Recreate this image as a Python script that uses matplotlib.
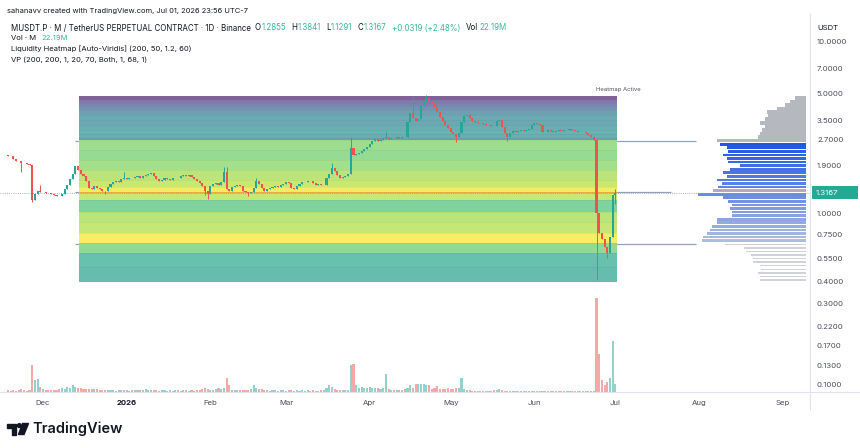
import matplotlib
matplotlib.use("Agg")
import matplotlib.pyplot as plt
import matplotlib.patches as mpatches
import matplotlib.transforms as mtransforms
import numpy as np

plt.rcParams['font.family'] = ['Inter', 'DejaVu Sans']

W, H = 860, 448
def fx(x): return x / W
def fy(y): return 1 - y / H

# ---- daily candles, day 0 = 2025-12-01 ----
first_day = -13
first_open = 2.20
closes = [2.17, 2.15, 2.08, 2.03, 2.02, 1.98, 1.96, 1.95, 1.92,
          1.20, 1.30, 1.35, 1.33,
          1.34, 1.32, 1.31, 1.30, 1.29, 1.27, 1.26, 1.30, 1.38, 1.46,
          1.58, 1.70, 1.90, 1.80, 1.70, 1.65, 1.55, 1.40, 1.38, 1.45,
          1.40, 1.38, 1.36, 1.35, 1.42, 1.48, 1.52, 1.55, 1.53, 1.58,
          1.60, 1.58, 1.62, 1.60, 1.63, 1.65, 1.62, 1.66, 1.68, 1.70,
          1.72, 1.65, 1.58, 1.55, 1.57, 1.60, 1.58, 1.56, 1.60, 1.62,
          1.60, 1.66, 1.68, 1.65, 1.67, 1.63, 1.58, 1.55, 1.50, 1.45,
          1.35, 1.30, 1.45, 1.48, 1.50, 1.47, 1.52, 1.75, 1.38, 1.35,
          1.42, 1.45, 1.46, 1.44, 1.36, 1.33, 1.31, 1.34, 1.40, 1.55,
          1.48, 1.40, 1.36, 1.38, 1.40, 1.42, 1.44, 1.43, 1.46, 1.48,
          1.52, 1.50, 1.41, 1.38, 1.45, 1.48, 1.52, 1.53, 1.55, 1.54,
          1.50, 1.46, 1.48, 1.46, 1.47, 1.62, 1.70, 1.85, 1.76, 1.68,
          1.62, 1.64, 1.66, 1.70, 2.40, 2.20, 2.22, 2.26, 2.30, 2.38,
          2.45, 2.55, 2.65, 2.72, 2.65, 2.70, 2.74, 2.78, 2.72, 2.74,
          2.74, 2.78, 2.76, 2.80, 2.78, 3.40, 3.85, 3.60, 3.45, 3.55,
          4.30, 4.50, 4.70, 4.55, 4.40, 4.15, 3.90, 3.65, 3.45, 3.30,
          3.15, 3.00, 2.92, 2.78, 2.95, 3.40, 3.70, 3.75, 3.60, 3.48,
          3.42, 3.38, 3.35, 3.33, 3.28, 3.30, 3.25, 3.22, 3.45, 3.50,
          3.20, 2.95, 2.80, 2.95, 3.02, 3.00, 3.03, 3.05, 3.02, 3.05,
          3.10, 3.30, 3.35, 3.32, 3.30, 3.00, 2.98, 3.05, 3.03, 3.00,
          3.04, 3.06, 3.02, 3.05, 3.08, 3.10, 3.06, 3.04, 3.00, 2.98,
          3.00, 2.95, 2.85, 2.78, 2.70, 1.01, 0.77, 0.71, 0.64, 0.59,
          0.73, 1.2855, 1.3167]

nan = np.nan
wick_days = [-8, -4, -1, 23, 30, 60, 61, 67, 68, 76, 79, 107, 114, 127,
             137, 142, 153, 172, 205, 209, 212]
wick_high = [nan, nan, 1.47, nan, 1.75, nan, nan, 1.86, 1.86, nan, 1.62, 1.97,
             2.80, 3.00, 4.75, 4.90, nan, nan, nan, nan, 1.3841]
wick_low = [1.75, 1.17, nan, 1.30, nan, 1.28, 1.22, nan, nan, 1.26, nan, nan,
            nan, nan, nan, nan, 2.62, 2.66, 0.41, 0.55, 1.1291]
change_text = '+0.0319 (+2.48%)'

# volume in millions
volume = [5, 4, 5, 4, 6, 9, 5, 4, 5,
          77, 35, 38, 14,
          9, 6, 5, 5, 6, 5, 10, 11, 9, 14,
          12, 21, 14, 12, 11, 9, 10, 9, 8, 9,
          8, 7, 6, 5, 5, 5, 6, 4, 5, 5,
          6, 5, 4, 5, 6, 5, 7, 5, 8, 5,
          6, 5, 5, 4, 5, 5, 4, 5, 4, 5,
          5, 4, 5, 5, 4, 5, 4, 5, 6, 8,
          12, 9, 7, 6, 9, 12, 8, 12, 40, 19,
          7, 6, 6, 7, 6, 6, 7, 9, 21, 12,
          9, 8, 5, 5, 4, 5, 5, 4, 5, 5,
          4, 5, 5, 4, 5, 4, 5, 4, 5, 4,
          5, 4, 4, 5, 5, 12, 19, 15, 9, 6,
          5, 5, 5, 6, 77, 80, 21, 12, 14, 12,
          11, 13, 12, 11, 12, 10, 11, 51, 9, 6,
          5, 6, 7, 5, 8, 12, 19, 11, 24, 24,
          24, 24, 19, 19, 9, 11, 16, 10, 9, 10,
          11, 9, 10, 11, 12, 40, 8, 7, 6, 4,
          3, 3, 3, 3, 3, 3, 4, 5, 6, 8,
          5, 4, 3, 3, 3, 3, 3, 3, 3, 3,
          3, 3, 3, 3, 3, 3, 3, 3, 3, 3,
          3, 3, 3, 3, 3, 3, 3, 3, 3, 3,
          3, 3, 3, 3, 3, 269, 108, 35, 19, 29,
          41, 147, 22.19]

# liquidity heatmap bands (price edges high -> low, viridis level per band)
heat_edges = [4.84, 4.59, 4.41, 4.24, 4.02, 3.76, 3.51, 3.28, 3.07, 2.91, 2.76,
              2.68, 2.34, 2.05, 1.79, 1.57, 1.43, 1.32, 1.20, 1.02, 0.89, 0.77,
              0.67, 0.59, 0.49, 0.40]
heat_level = [0.06, 0.18, 0.22, 0.30, 0.38, 0.44, 0.42, 0.46, 0.50, 0.46, 0.36,
              0.78, 0.76, 0.80, 0.85, 0.88, 0.97, 0.88, 0.70, 0.85, 0.87, 0.98,
              0.75, 0.58, 0.55]
heat_bars = 200

# volume profile rows, bottom -> top, relative volume
vp_low, vp_high = 0.40, 4.84
vp_volume = [46, 46, 48, 45, 46, 53, 53, 55, 60, 62,
             81, 104, 103, 99, 96, 94, 89, 89, 74, 74,
             76, 74, 78, 83, 108, 93, 88, 84, 89, 79,
             83, 76, 66, 78, 79, 83, 78, 79, 86, 89,
             48, 46, 44, 41, 46, 41, 38, 39, 29, 21,
             16, 11]
vah, poc, val = 2.63, 1.34, 0.665

month_starts = np.array(['2025-12-01', '2026-01-01', '2026-02-01', '2026-03-01',
                         '2026-04-01', '2026-05-01', '2026-06-01', '2026-07-01',
                         '2026-08-01', '2026-09-01'], dtype='datetime64[D]')
month_labels = ['Dec', '2026', 'Feb', 'Mar', 'Apr', 'May', 'Jun', 'Jul', 'Aug', 'Sep']
price_ticks = [10, 7, 5, 3.5, 2.7, 1.9, 1.4, 1.0, 0.75, 0.55, 0.4, 0.3, 0.22,
               0.17, 0.13, 0.10]

UP, DOWN = '#26a69a', '#ef5350'
UPV, DOWNV = '#93d2cb', '#f5a9a7'
TXT = '#131722'

# ---- derived ohlc ----
closes = np.array(closes)
days = np.arange(first_day, first_day + len(closes))
opens = np.r_[first_open, closes[:-1]]
highs = np.maximum(opens, closes)
lows = np.minimum(opens, closes)
for d, h, l in zip(wick_days, wick_high, wick_low):
    i = d - first_day
    if not np.isnan(h):
        highs[i] = max(highs[i], h)
    if not np.isnan(l):
        lows[i] = min(lows[i], l)
up = closes >= opens

fig = plt.figure(figsize=(8.6, 4.48), dpi=100)
ax = fig.add_axes([0, fy(392), fx(810), fy(18) - fy(392)])
ax.set_yscale('log')
ax.set_ylim(0.0910, 13.80)
x0 = 43.0
ax.set_xlim(-x0 / 2.7, (810 - x0) / 2.7)
for s in ax.spines.values():
    s.set_visible(False)

# heatmap: viridis bands washed towards white
last_day = days[-1]
hx = [last_day - heat_bars + 1.5, last_day + 0.6]
vir = plt.get_cmap('viridis')
for hi, lo, lv in zip(heat_edges[:-1], heat_edges[1:], heat_level):
    c = np.array(vir(lv)[:3]) * 0.68 + 0.32
    ax.add_patch(mpatches.Rectangle((hx[0], lo), hx[1] - hx[0], hi - lo,
                                    facecolor=c, edgecolor='none', zorder=1))
ax.hlines(heat_edges[1:-1], hx[0], hx[1], color=(0.2, 0.3, 0.35, 0.10), lw=0.4, zorder=1.2)
ax.hlines(poc, hx[0], hx[1], color='#e2893a', lw=0.6, alpha=0.8, zorder=1.5)

# value area lines
ax.hlines([vah, val], hx[0] - 1.5, 242, color='#95a1b8', lw=0.9, zorder=0.5)
ax.hlines(poc, hx[0] - 1.5, 232.5, color='#95a1b8', lw=0.9, zorder=0.5)

# current price dotted line
ax.axhline(closes[-1], color='#9598a1', lw=0.6, ls=(0, (1, 1.6)), zorder=2.5)

# candles
cols = np.where(up, UP, DOWN)
ax.vlines(days, lows, highs, colors=cols, lw=0.7, zorder=3)
ax.bar(days, np.maximum(np.abs(closes - opens), 0.004), bottom=np.minimum(opens, closes),
       width=0.78, color=cols, linewidth=0, zorder=3.5)

# volume profile
vp_edges = np.geomspace(vp_low, vp_high, len(vp_volume) + 1)
tr = mtransforms.blended_transform_factory(ax.transAxes, ax.transData)
right = 806 / 810
maxw = 108 / 810
vmax = max(vp_volume)
mids = np.sqrt(vp_edges[:-1] * vp_edges[1:])
n_va = int(np.sum((mids >= val) & (mids <= vah)))
k = 0
for i, v in enumerate(vp_volume):
    lo, hi = vp_edges[i], vp_edges[i + 1]
    mid = mids[i]
    w = v / vmax * maxw
    r = hi / lo
    if val <= mid <= vah:
        t = k / max(n_va - 1, 1)
        k += 1
        c0 = np.array([0.68, 0.74, 0.87])
        c1 = np.array([0.12, 0.34, 0.90])
        c = c0 + (c1 - c0) * t
        if abs(np.log(mid / poc)) < np.log(r) / 2:
            c = '#b4acbc'
        y0, y1 = lo * r ** 0.12, hi / r ** 0.12
    elif mid > vah:
        c = '#b6b8bf'
        y0, y1 = lo, hi
    else:
        c = '#cfd2d8'
        y0, y1 = lo * r ** 0.3, hi / r ** 0.3
    ax.add_patch(mpatches.Rectangle((right - w, y0), w, y1 - y0, transform=tr,
                                    facecolor=c, edgecolor='none', zorder=2))

# volume overlay
vax = ax.twinx()
vax.set_ylim(0, 1070)
vax.axis('off')
vax.bar(days, volume, width=0.78, color=np.where(up, UPV, DOWNV), linewidth=0)

# axes ticks
ax.yaxis.tick_right()
ax.yaxis.set_minor_locator(matplotlib.ticker.NullLocator())
ax.set_yticks(price_ticks)
ax.set_yticklabels(['%.4f' % p for p in price_ticks])
ax.tick_params(axis='y', length=0, pad=5, labelsize=5.6, labelcolor='#4a4e5a')
mdays = (month_starts - np.datetime64('2025-12-01')).astype(int)
ax.set_xticks(mdays)
ax.set_xticklabels(month_labels)
ax.tick_params(axis='x', length=0, pad=6, labelsize=5.6, labelcolor='#4a4e5a')
ax.get_xticklabels()[1].set_fontweight('bold')
ax.get_xticklabels()[1].set_color(TXT)

# frame lines
fig.add_artist(plt.Line2D([fx(810), fx(810)], [fy(14), fy(410)], color='#e0e3eb', lw=0.8))
fig.add_artist(plt.Line2D([0, 1], [fy(392), fy(392)], color='#e0e3eb', lw=0.8))

# last price label
ypix = ax.transData.transform((0, closes[-1]))[1]
yl = H - ypix
fig.add_artist(mpatches.Rectangle((fx(812), fy(yl + 6.5)), fx(46), fy(yl - 6.5) - fy(yl + 6.5),
                                  facecolor='#22ab94', edgecolor='none', zorder=5))
fig.text(fx(816), fy(yl), '%.4f' % closes[-1], color='white', fontsize=5.6,
         va='center', ha='left', zorder=6)
fig.text(fx(817), fy(28), 'USDT', color=TXT, fontsize=5.6, va='center', ha='left')
ax.text(last_day + 1, 5.3, 'Heatmap Active', fontsize=4.3, color='#50535e',
        ha='center', va='center')

# header
fig.text(fx(7), fy(11), 'sahanavv created with TradingView.com, Jul 01, 2026 23:56 UTC-7',
         color=TXT, fontsize=5.4, va='center', ha='left')
renderer = fig.canvas.get_renderer()
def text_run(x, y, parts, size=5.5):
    for s, c, gap in parts:
        x += gap
        t = fig.text(fx(x), fy(y), s, color=c, fontsize=size, va='center', ha='left')
        x += t.get_window_extent(renderer=renderer).width

G = '#3fb59f'
text_run(11, 28, [('MUSDT.P · M / TetherUS PERPETUAL CONTRACT · 1D · Binance', TXT, 0),
                  ('O', TXT, 3.5), ('%.4f' % opens[-1], G, 0.8),
                  ('H', TXT, 5), ('%.4f' % highs[-1], G, 0.8),
                  ('L', TXT, 5), ('%.4f' % lows[-1], G, 0.8),
                  ('C', TXT, 5), ('%.4f' % closes[-1], G, 0.8),
                  (change_text, G, 5),
                  ('Vol', TXT, 6), ('%.2fM' % volume[-1], G, 0.8)], size=5.7)
text_run(11, 38.5, [('Vol · M', TXT, 0), ('%.2fM' % volume[-1], G, 5)])
fig.text(fx(11), fy(49), 'Liquidity Heatmap [Auto-Viridis] (200, 50, 1.2, 60)',
         color=TXT, fontsize=5.5, va='center', ha='left')
fig.text(fx(11), fy(60), 'VP (200, 200, 1, 20, 70, Both, 1, 68, 1)',
         color=TXT, fontsize=5.5, va='center', ha='left')

# logo
def px_poly(pts, **kw):
    fig.add_artist(mpatches.Polygon([(fx(a), fy(b)) for a, b in pts], closed=True, **kw))
px_poly([(7, 423.5), (16, 423.5), (16, 434.5), (12, 434.5), (12, 427.5), (7, 427.5)], color=TXT)
fig.add_artist(mpatches.Ellipse((fx(19.3), fy(425.6)), 3.8 / W, 3.8 / H, color=TXT))
px_poly([(22.5, 423.5), (28.5, 423.5), (24, 434.5), (18.5, 434.5)], color=TXT)
fig.text(fx(32), fy(429), 'TradingView', color=TXT, fontsize=10.5, fontweight='semibold',
         va='center', ha='left')

fig.savefig('out.png', dpi=100, facecolor='white')
